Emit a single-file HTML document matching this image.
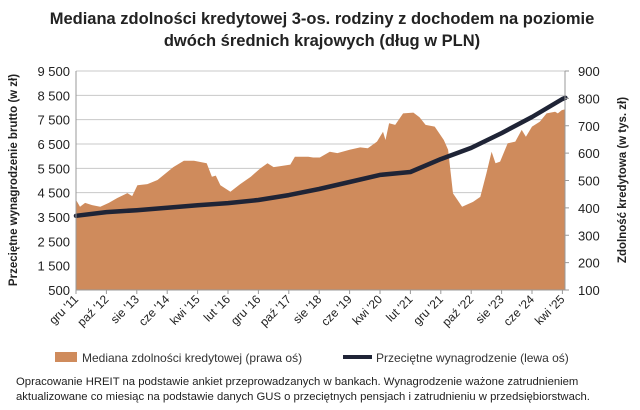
<!DOCTYPE html>
<html><head><meta charset="utf-8"><style>
body{margin:0;background:#fff;width:640px;height:405px;overflow:hidden;font-family:"Liberation Sans",sans-serif}
</style></head><body>
<svg width="640" height="405" style="font-family:'Liberation Sans',sans-serif">
<text x="322" y="24" text-anchor="middle" font-size="16.5" font-weight="bold" fill="#222">Mediana zdolności kredytowej 3-os. rodziny z dochodem na poziomie</text>
<text x="322" y="46" text-anchor="middle" font-size="16.5" font-weight="bold" fill="#222">dwóch średnich krajowych (dług w PLN)</text>
<g id="grid"></g><g id="plot"></g><g id="axes"></g>
<text transform="translate(17,180) rotate(-90)" text-anchor="middle" font-size="11.5" font-weight="bold" fill="#222">Przeciętne wynagrodzenie brutto (w zł)</text>
<text transform="translate(626,180) rotate(-90)" text-anchor="middle" font-size="11.5" font-weight="bold" fill="#222">Zdolność kredytowa (w tys. zł)</text>
<g>
<rect x="55" y="352" width="22" height="10" fill="#cf8b5c"/>
<text x="82" y="362" font-size="12" fill="#333">Mediana zdolności kredytowej (prawa oś)</text>
<line x1="343" y1="357" x2="372" y2="357" stroke="#1f2436" stroke-width="4"/>
<text x="376" y="362" font-size="12" fill="#333">Przeciętne wynagrodzenie (lewa oś)</text>
</g>
<text x="16" y="385" font-size="11.3" fill="#222">Opracowanie HREIT na podstawie ankiet przeprowadzanych w bankach. Wynagrodzenie ważone zatrudnieniem</text>
<text x="16" y="400" font-size="11.3" fill="#222">aktualizowane co miesiąc na podstawie danych GUS o przeciętnych pensjach i zatrudnieniu w przedsiębiorstwach.</text>
</svg>
<script>
const xLabels=["gru '11","paź '12","sie '13","cze '14","kwi '15","lut '16","gru '16","paź '17","sie '18","cze '19","kwi '20","lut '21","gru '21","paź '22","sie '23","cze '24","kwi '25"];
const leftTicks=[500,1500,2500,3500,4500,5500,6500,7500,8500,9500];
const rightTicks=[100,200,300,400,500,600,700,800,900];
const areaMonths=[0,1.3,3,5.3,8,10.8,13.6,16.9,18.5,20.2,23.5,26.8,32,35.5,38.8,43,44.7,46,47.5,50.8,54,57.5,60.7,63,65,67,70.5,72,76.4,78,80.2,83.5,86,90,93.5,96,99,101,101.8,103,105,107.6,111,113,115,118,121,122.4,124,127,130.6,133,135,136.7,138,139.5,142,144.5,146.6,148,150,152.6,154.8,157.6,158.5,159.8,161];
const areaValues=[429,404,418,410,404,418,436,454,443,483,487,502,549,572,572,563,514,518,483,459,487,514,545,563,549,552,558,587,587,584,584,605,600,612,621,618,642,678,648,709,703,745,748,731,703,697,648,612,453,404,422,440,526,605,563,569,636,642,685,660,697,715,745,751,745,757,760];
const wageMonths=[0,10,20,30,40,50,60,70,80,90,100,110,120,130,140,150,160,161];
const wageValues=[3550,3700,3780,3880,3980,4070,4200,4400,4650,4940,5230,5350,5880,6340,6950,7610,8350,8400];
const NS="http://www.w3.org/2000/svg";
const X0=76,PXM=3.04,TOP=71,BOT=290;
const x=m=>X0+m*PXM;
const yL=v=>BOT-(v-500)/9000*(BOT-TOP);
const yR=v=>BOT-(v-100)/800*(BOT-TOP);
function mk(tag,attrs,parent,txt){const e=document.createElementNS(NS,tag);for(const k in attrs)e.setAttribute(k,attrs[k]);if(txt!==undefined)e.textContent=txt;parent.appendChild(e);return e;}
const grid=document.getElementById('grid'),plot=document.getElementById('plot'),axes=document.getElementById('axes');
leftTicks.forEach(v=>{
 const g=mk('line',{x1:X0,x2:565,y1:yL(v),y2:yL(v),stroke:'#c8c8c8','stroke-width':1},grid);
 
 
 const t=mk('text',{x:70,y:yL(v)+5,'text-anchor':'end','font-size':13,fill:'#222'},axes,v>=1000?String(v).replace(/(\d)(\d{3})$/,'$1 $2'):String(v));
 
 
});
rightTicks.forEach(v=>{
 mk('line',{x1:565,x2:569,y1:yR(v),y2:yR(v),stroke:'#999'},axes);
 const t=mk('text',{x:578,y:yR(v)+5,'font-size':13,fill:'#222'},axes,String(v));
 
 
});
let d='M'+x(areaMonths[0])+','+BOT;
areaMonths.forEach((m,i)=>{d+=' L'+x(m).toFixed(1)+','+yR(areaValues[i]).toFixed(1);});
d+=' L'+x(areaMonths[areaMonths.length-1])+','+BOT+' Z';
const area=mk('path',{d:d,fill:'#cf8b5c'},plot);


const pts=wageMonths.map((m,i)=>x(m).toFixed(1)+','+yL(wageValues[i]).toFixed(1)).join(' ');
const line=mk('polyline',{points:pts,fill:'none',stroke:'#1f2436','stroke-width':4.5,'stroke-linejoin':'round','stroke-linecap':'round'},plot);


mk('line',{x1:X0,x2:X0,y1:TOP,y2:BOT,stroke:'#999'},axes);
mk('line',{x1:565,x2:565,y1:TOP,y2:BOT,stroke:'#999'},axes);
mk('line',{x1:X0,x2:565,y1:BOT,y2:BOT,stroke:'#999'},axes);
xLabels.forEach((l,i)=>{
 const xx=x(i*10);
 mk('line',{x1:xx,x2:xx,y1:BOT,y2:BOT+4,stroke:'#999'},axes);
 const t=mk('text',{transform:'translate('+(xx+3)+','+(BOT+10)+') rotate(-45)','text-anchor':'end','font-size':12,fill:'#222'},axes,l);
 
 
});
</script>
</body></html>
